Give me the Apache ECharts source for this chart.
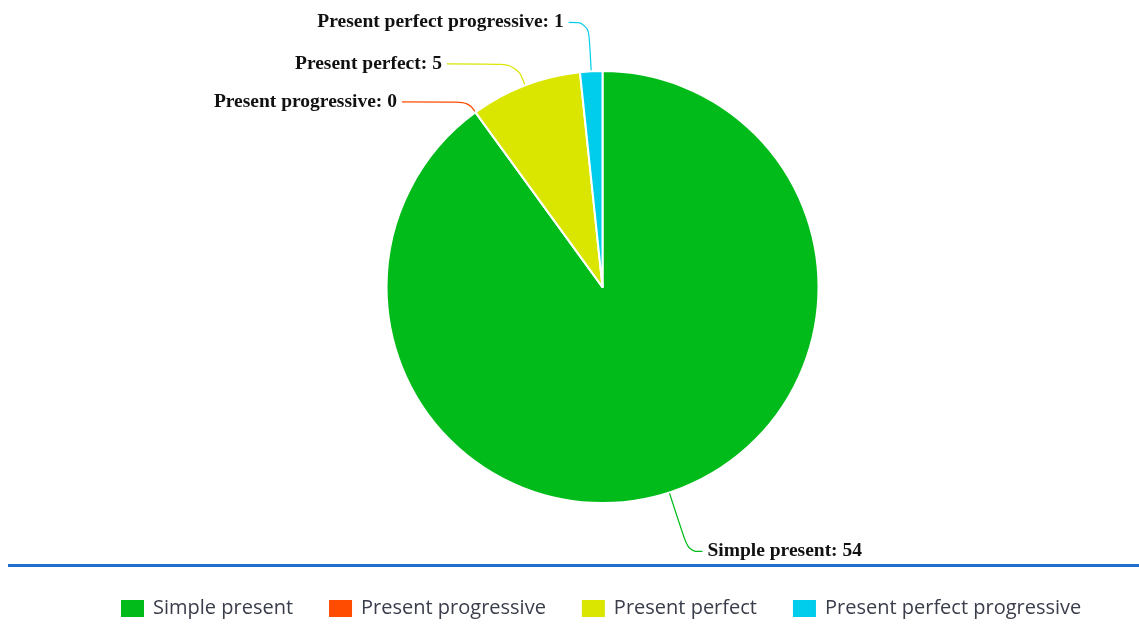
<!DOCTYPE html>
<html>
<head>
<meta charset="utf-8">
<script src="https://cdn.jsdelivr.net/npm/echarts@6/dist/echarts.min.js"></script>
<style>
  html, body { margin: 0; padding: 0; background: #fff; }
  #chart { width: 1139px; height: 624px; }
</style>
</head>
<body>
<div id="chart"></div>
<script>
// Tense usage counts
const categories = ['Simple present', 'Present progressive', 'Present perfect', 'Present perfect progressive'];
const counts = [54, 0, 5, 1];
const colors = ['#00BB19', '#FF4C00', '#DAE600', '#00CCEB'];
// leader line lengths per slice [first segment, second segment]
const leaderLengths = [[62, 14], [13, 66], [23, 70], [49, 20]];

const chart = echarts.init(document.getElementById('chart'));

const pieData = categories.map((name, i) => ({
  name: name,
  value: counts[i],
  itemStyle: { color: colors[i] },
  labelLine: {
    length: leaderLengths[i][0],
    length2: leaderLengths[i][1],
    lineStyle: { color: colors[i] }
  }
}));

chart.setOption({
  animation: false,
  color: colors,
  legend: {
    data: categories,
    bottom: 0,
    left: 114,
    itemWidth: 25,
    itemHeight: 19,
    itemGap: 34,
    icon: 'rect',
    textStyle: { fontFamily: 'Open Sans', fontSize: 20, color: '#3a3d4a', padding: [0, 0, 0, 3] }
  },
  graphic: [{
    type: 'rect',
    shape: { x: 8, y: 564, width: 1131, height: 3 },
    style: { fill: '#1F6FCC' },
    silent: true
  }],
  series: [{
    type: 'pie',
    center: ['52.9%', '46%'],
    radius: 216,
    startAngle: 90,
    clockwise: true,
    stillShowZeroSum: true,
    minAngle: 0,
    avoidLabelOverlap: true,
    itemStyle: { borderColor: '#fff', borderWidth: 2 },
    label: {
      show: true,
      formatter: '{b}: {c}',
      fontFamily: 'Liberation Serif',
      fontWeight: 'bold',
      fontSize: 19.5,
      color: '#111'
    },
    labelLine: { show: true, smooth: 0.4, lineStyle: { width: 1.2 } },
    data: pieData
  }]
});
</script>
</body>
</html>
